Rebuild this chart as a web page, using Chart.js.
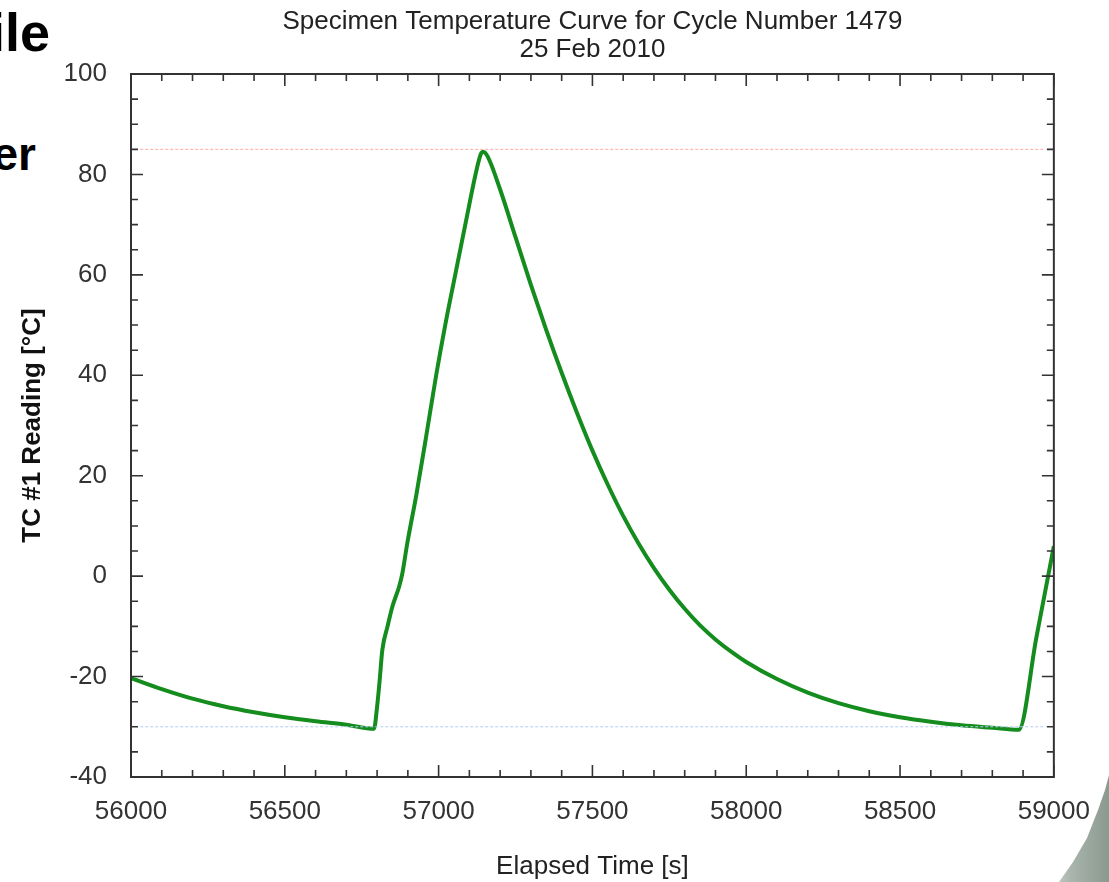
<!DOCTYPE html>
<html>
<head>
<meta charset="utf-8">
<script src="https://cdn.jsdelivr.net/npm/chart.js@4.4.0/dist/chart.umd.min.js"></script>
<style>
html, body { margin: 0; padding: 0; background: #fff; overflow: hidden; }
#wrap { position: relative; width: 1109px; height: 882px; }
#graph { position: absolute; left: 0; top: 0; width: 1109px; height: 882px; }
.slide { position: absolute; font-family: "Liberation Sans", Arial, sans-serif; font-weight: bold; color: #000; text-align: right; white-space: nowrap; }
#deco {
  position: absolute; left: 1045px; top: 760px; width: 64px; height: 122px;
  background: linear-gradient(90deg, #d3dad3 0%, #a9b5ad 40%, #8a998f 100%);
  clip-path: polygon(14px 122px, 28px 102px, 42px 78px, 53px 50px, 60px 30px, 64px 15px, 64px 122px);
}
</style>
</head>
<body>
<div id="wrap">
  <div id="deco"></div>
  <div class="slide" style="right:1059px; top:5px; font-size:54px; line-height:54px;">ile</div>
  <div class="slide" style="right:1073px; top:131px; font-size:46px; line-height:46px;">er</div>
  <div id="graph"></div>
</div>
<script>
// Données (temps en s, température en °C)
const temps = [56000, 56100, 56200, 56300, 56400, 56500, 56600, 56700, 56790,
  56800, 56808, 56817, 56834, 56850, 56872, 56882, 56898, 56927, 56960, 56992,
  57023, 57054, 57090, 57120, 57137, 57145, 57160, 57200, 57250, 57300, 57350,
  57400, 57450, 57500, 57550, 57600, 57650, 57700, 57750, 57800, 57850, 57900,
  57950, 58000, 58100, 58200, 58300, 58400, 58500, 58600, 58700, 58800, 58886,
  58943, 59000];
const tc1 = [-20.3, -22.5, -24.4, -25.9, -27.1, -28.1, -28.9, -29.6, -30.4,
  -26, -21, -14.7, -10, -6, -2, 0.5, 6.5, 16, 28, 40,
  50.5, 60, 71, 80, 84, 84.5, 83.5, 77, 67.5, 58, 49,
  40.5, 32.5, 25, 18.2, 12, 6.5, 1.6, -2.7, -6.5, -9.8, -12.6,
  -15, -17.1, -20.5, -23.2, -25.3, -26.9, -28.1, -29, -29.7, -30.2, -30.6,
  -12.3, 6];

// Lignes de consigne (haute / basse)
const consigneX = [56030, 58970];
const consigneHaute = [85, 85];
const consigneBasse = [-30, -30];

const xTicks = [56000, 56500, 57000, 57500, 58000, 58500, 59000];
const yTicks = [-40, -20, 0, 20, 40, 60, 80, 100];

var graphDiv = document.getElementById('graph');
graphDiv.innerHTML = '';
var canvas = document.createElement('canvas');
canvas.id = 'chartCanvas';
canvas.width = 1109;
canvas.height = 882;
graphDiv.appendChild(canvas);

const police = '"Liberation Sans", Arial, sans-serif';

// Cadre + graduations vers l'intérieur (style gnuplot)
const cadrePlugin = {
  id: 'cadre',
  afterDraw(chart) {
    const ctx = chart.ctx;
    const a = chart.chartArea;
    const sx = chart.scales.x, sy = chart.scales.y;
    ctx.save();
    ctx.strokeStyle = '#333';
    ctx.lineWidth = 2;
    ctx.strokeRect(a.left, a.top, a.right - a.left, a.bottom - a.top);
    ctx.lineWidth = 1.6;
    ctx.beginPath();
    for (let v = sx.min; v <= sx.max; v += 100) {
      const px = sx.getPixelForValue(v);
      const len = (v % 500 === 0) ? 12 : 7;
      ctx.moveTo(px, a.bottom); ctx.lineTo(px, a.bottom - len);
      ctx.moveTo(px, a.top); ctx.lineTo(px, a.top + len);
    }
    for (let v = sy.min; v <= sy.max; v += 5) {
      const py = sy.getPixelForValue(v);
      const len = (v % 20 === 0) ? 12 : 7;
      ctx.moveTo(a.left, py); ctx.lineTo(a.left + len, py);
      ctx.moveTo(a.right, py); ctx.lineTo(a.right - len, py);
    }
    ctx.stroke();
    ctx.restore();
  }
};

var chart = new Chart(canvas, {
  type: 'line',
  data: {
    datasets: [
      {
        label: 'haute',
        data: consigneX.map((x, i) => ({ x: x, y: consigneHaute[i] })),
        borderColor: '#ffa8a8',
        borderWidth: 1,
        borderDash: [3, 2],
        pointRadius: 0
      },
      {
        label: 'basse',
        data: consigneX.map((x, i) => ({ x: x, y: consigneBasse[i] })),
        borderColor: '#b4ccf4',
        borderWidth: 1,
        borderDash: [3, 2],
        pointRadius: 0
      },
      {
        label: 'TC #1',
        data: temps.map((t, i) => ({ x: t, y: tc1[i] })),
        borderColor: '#158c1e',
        borderWidth: 4,
        pointRadius: 0,
        cubicInterpolationMode: 'monotone'
      }
    ]
  },
  options: {
    responsive: false,
    animation: false,
    layout: { padding: { left: 0, right: 53, top: 0, bottom: 0 } },
    plugins: {
      legend: { display: false },
      tooltip: { enabled: false },
      title: {
        display: true,
        fullSize: false,
        text: ['Specimen Temperature Curve for Cycle Number 1479', '25 Feb 2010'],
        color: '#222',
        font: { family: police, size: 26, weight: 'normal', lineHeight: 1.077 },
        padding: { top: 8, bottom: 10 }
      }
    },
    scales: {
      x: {
        type: 'linear',
        min: 56000,
        max: 59000,
        afterBuildTicks: (axis) => { axis.ticks = xTicks.map(v => ({ value: v })); },
        afterFit: (axis) => { axis.height = 105; },
        grid: { display: false, drawTicks: false },
        border: { display: false },
        ticks: {
          color: '#333',
          padding: 19,
          maxRotation: 0,
          font: { family: police, size: 26 },
          callback: (v) => String(v)
        },
        title: {
          display: true,
          text: 'Elapsed Time [s]',
          color: '#222',
          font: { family: police, size: 26 },
          padding: { top: 0, bottom: 0 }
        }
      },
      y: {
        min: -40,
        max: 100,
        afterBuildTicks: (axis) => { axis.ticks = yTicks.map(v => ({ value: v })); },
        afterFit: (axis) => { axis.width = 131; },
        grid: { display: false, drawTicks: false },
        border: { display: false },
        ticks: {
          color: '#333',
          padding: 24,
          font: { family: police, size: 26 },
          callback: (v) => String(v)
        },
        title: {
          display: true,
          text: 'TC #1 Reading [°C]',
          color: '#111',
          font: { family: police, size: 26, weight: 'bold' },
          padding: { top: 17, bottom: 0 }
        }
      }
    }
  },
  plugins: [cadrePlugin]
});
</script>
</body>
</html>
